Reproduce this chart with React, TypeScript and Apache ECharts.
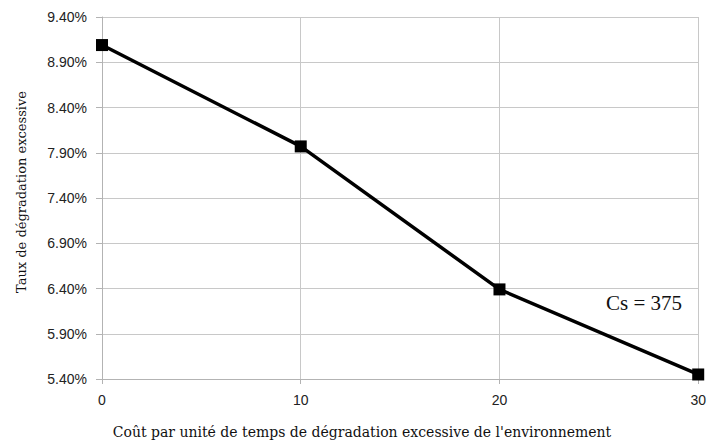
import React, { useEffect, useRef } from "react";
import * as echarts from "echarts";

const xValues = [0, 10, 20, 30];
const rates = [9.09, 7.97, 6.39, 5.45];
const yTicks = [5.4, 5.9, 6.4, 6.9, 7.4, 7.9, 8.4, 8.9, 9.4];
const xTitle = "Coût par unité de temps de dégradation excessive de l'environnement";
const yTitle = "Taux de dégradation excessive";
const noteText = "Cs = 375";

export default function App() {
  const ref = useRef<HTMLDivElement>(null);
  useEffect(() => {
    if (!ref.current) return;
    const chart = echarts.init(ref.current, null, { renderer: "svg" });
    const serif = "'DejaVu Serif', serif";
    const thinSerif = "'Liberation Serif', 'Times New Roman', serif";
    const sans = "'Liberation Sans', Arial, sans-serif";
    chart.setOption({
      animation: false,
      backgroundColor: "#ffffff",
      grid: { left: 102, right: 10, top: 17, bottom: 65, containLabel: false },
      xAxis: {
        type: "value",
        min: 0,
        max: 30,
        interval: 10,
        axisLine: { show: true, lineStyle: { color: "#b3b3b3", width: 1 } },
        axisTick: { show: true, length: 5, lineStyle: { color: "#b3b3b3" } },
        axisLabel: { fontFamily: sans, fontSize: 14, color: "#222", margin: 14 },
        splitLine: { show: true, lineStyle: { color: "#c8c8c8", width: 1 } },
      },
      yAxis: {
        type: "value",
        min: yTicks[0],
        max: yTicks[yTicks.length - 1],
        interval: 0.5,
        axisLine: { show: true, lineStyle: { color: "#b3b3b3", width: 1 } },
        axisTick: { show: true, length: 6, lineStyle: { color: "#b3b3b3" } },
        axisLabel: {
          fontFamily: sans,
          fontSize: 14,
          color: "#222",
          margin: 15,
          formatter: (v: number) => v.toFixed(2) + "%",
        },
        splitLine: { show: true, lineStyle: { color: "#c8c8c8", width: 1 } },
      },
      series: [
        {
          type: "line",
          data: xValues.map((x, i) => [x, rates[i]]),
          symbol: "rect",
          symbolSize: 12,
          lineStyle: { color: "#000", width: 3.5 },
          itemStyle: { color: "#000" },
          clip: false,
        },
      ],
      graphic: [
        {
          type: "text",
          x: 362,
          y: 432,
          style: {
            text: xTitle,
            font: `14px ${serif}`,
            fill: "#111",
            align: "center",
            verticalAlign: "middle",
          },
        },
        {
          type: "text",
          x: 21,
          y: 192,
          rotation: Math.PI / 2,
          style: {
            text: yTitle,
            font: `13px ${serif}`,
            fill: "#111",
            align: "center",
            verticalAlign: "middle",
          },
        },
        {
          type: "text",
          x: 644,
          y: 303,
          style: {
            text: noteText,
            font: `21px ${thinSerif}`,
            fill: "#111",
            align: "center",
            verticalAlign: "middle",
          },
        },
      ],
    });
    return () => chart.dispose();
  }, []);
  return <div ref={ref} style={{ width: 709, height: 444, position: "absolute", left: 0, top: 0 }} />;
}
